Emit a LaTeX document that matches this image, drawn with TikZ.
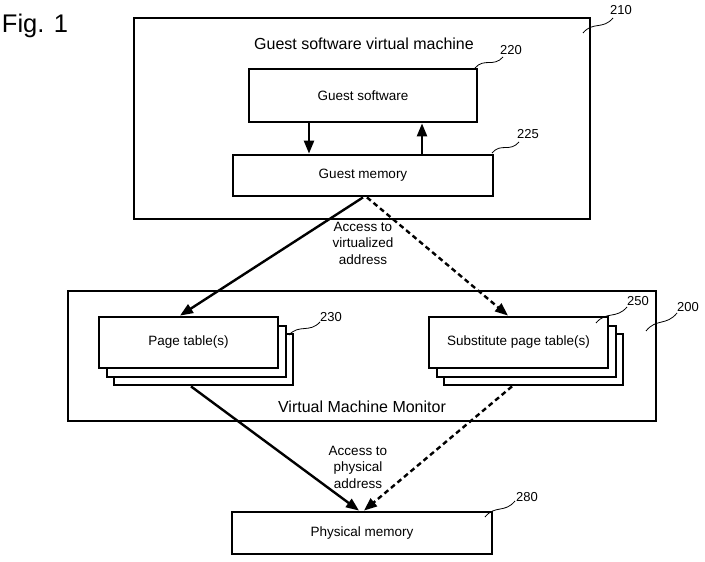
\documentclass[tikz,border=0pt]{standalone}
\usepackage{fontspec}
\setmainfont{Liberation Sans}
\usetikzlibrary{arrows.meta,calc}
\newcommand\sqg[2]{\draw[squig] (#1) .. controls ($(#1)!0.33!(#2)+(0,-7)$) and ($(#1)!0.66!(#2)+(0,7)$) .. (#2);}
\begin{document}
\begin{tikzpicture}[x=1pt,y=-1pt,
  box/.style={draw,line width=2.8pt,fill=white,inner sep=0pt,font=\fontsize{13.5}{16}\selectfont},
  conn/.style={line width=2.4pt,-{Triangle[length=13pt,width=10pt]}},
  dconn/.style={conn,dash pattern=on 5pt off 3.5pt},
  txt/.style={font=\fontsize{13.5}{16.5}\selectfont,align=center,inner sep=1pt},
  big/.style={font=\fontsize{16}{19}\selectfont,inner sep=1pt},
  num/.style={font=\fontsize{13}{15}\selectfont,inner sep=0pt},
  squig/.style={line width=0.8pt}]
\useasboundingbox (0,0) rectangle (705,562);

\node[font=\fontsize{25.5}{30}\selectfont,inner sep=0pt] (fig) at (35,26) {Fig. 1};

% guest VM
\node[box,minimum width=456pt,minimum height=201pt] (vm) at (362,118.5) {};
\node[big] (vmtitle) at (364,44) {Guest software virtual machine};
\node[box,minimum width=228pt,minimum height=53pt] (gs) at (363,95.5) {Guest software};
\node[box,minimum width=260pt,minimum height=41pt] (gm) at (363,175.5) {Guest memory};

% VMM
\node[box,minimum width=588pt,minimum height=130pt] (vmm) at (362,356) {};
\node[big] (vmmtitle) at (362,407) {Virtual Machine Monitor};
\node[box,minimum width=179pt,minimum height=51pt] (pt3) at (203.5,359.5) {};
\node[box,minimum width=179pt,minimum height=51pt] (pt2) at (196.5,351.5) {};
\node[box,minimum width=179pt,minimum height=51pt] (pt) at (188.5,342.5) {Page table(s)};
\node[box,minimum width=179pt,minimum height=51pt] (spt3) at (533.5,359.5) {};
\node[box,minimum width=179pt,minimum height=51pt] (spt2) at (526.5,351.5) {};
\node[box,minimum width=179pt,minimum height=51pt] (spt) at (518.5,342.5) {Substitute page table(s)};

% physical memory
\node[box,minimum width=260pt,minimum height=42pt] (pm) at (362,533) {Physical memory};

% arrows
\draw[conn] ([xshift=-54pt]gs.south) -- ([xshift=-54pt]gm.north);
\draw[conn] ([xshift=59pt]gm.north) -- ([xshift=59pt]gs.south);
\draw[conn] (gm.south) -- ([xshift=-8.5pt]pt.north);
\draw[dconn] ([xshift=4pt]gm.south) -- ([xshift=-10.5pt]spt.north);
\draw[conn] ([xshift=-12.5pt]pt3.south) -- ([xshift=-3pt]pm.north);
\draw[dconn] ([xshift=-21.5pt]spt3.south) -- ([xshift=2pt]pm.north);

\node[txt] (acc1) at (363,243) {Access to\\virtualized\\address};
\node[txt] (acc2) at (358,467) {Access to\\physical\\address};

% reference numerals
\coordinate (s210) at (583,33);  \coordinate (e210) at (613,18);
\coordinate (s220) at (475,68);  \coordinate (e220) at (503,57);
\coordinate (s225) at (492,153); \coordinate (e225) at (519,142);
\coordinate (s230) at (289,335); \coordinate (e230) at (320,322);
\coordinate (s250) at (596,323); \coordinate (e250) at (627,307);
\coordinate (s200) at (646,331); \coordinate (e200) at (677,313);
\coordinate (s280) at (485,517); \coordinate (e280) at (515,501);
\sqg{s210}{e210} \sqg{s220}{e220} \sqg{s225}{e225} \sqg{s230}{e230}
\sqg{s250}{e250} \sqg{s200}{e200} \sqg{s280}{e280}
\node[num] (n210) at (621,10) {210};
\node[num] (n220) at (511,50) {220};
\node[num] (n225) at (528,134) {225};
\node[num] (n230) at (331,317) {230};
\node[num] (n250) at (638,301) {250};
\node[num] (n200) at (688,307) {200};
\node[num] (n280) at (527,497) {280};
\end{tikzpicture}
\end{document}
